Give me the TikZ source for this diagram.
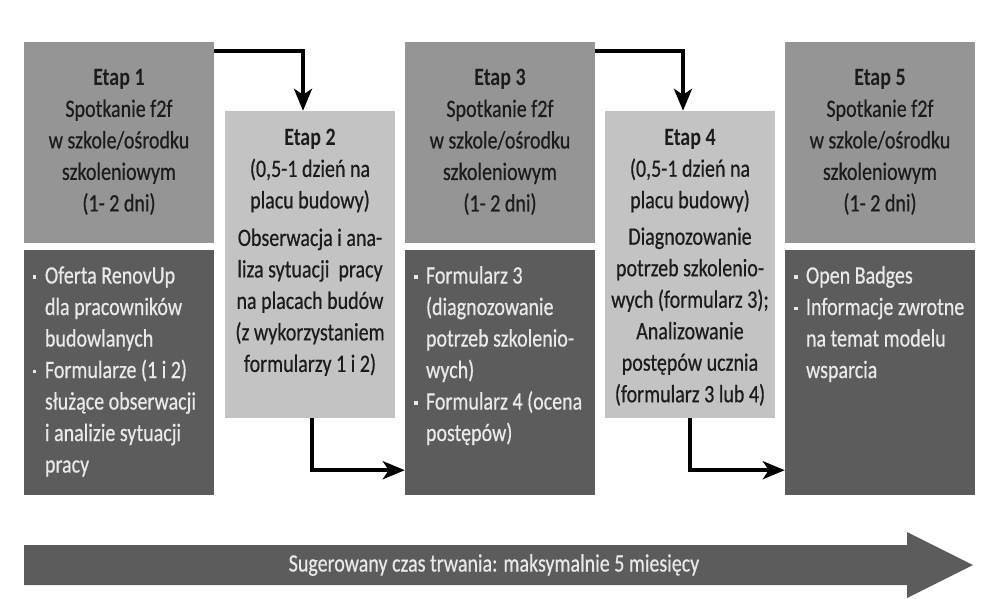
\documentclass[tikz,border=0pt]{standalone}
\usepackage{fontspec}
\setmainfont{Carlito}[FakeStretch=0.8, UprightFeatures={FakeBold=0.5}]
\usetikzlibrary{arrows.meta}
\definecolor{boxmid}{HTML}{959595}
\definecolor{boxdark}{HTML}{5C5C5C}
\definecolor{boxlight}{HTML}{C3C3C3}
\definecolor{ink}{HTML}{1C1C1C}
\definecolor{paper}{HTML}{E9E9E9}
\newcommand{\stagefont}{\fontsize{25}{31.5}\selectfont}
\newcommand{\itm}{\par\spaceskip=0pt\xspaceskip=0pt\hangindent=12pt\hangafter=1\noindent\makebox[12pt][l]{\rule[5pt]{3.5pt}{3.5pt}}}
\tikzset{
  stage/.style={fill=boxmid, minimum width=190pt, minimum height=201pt, inner sep=0pt, text=ink, align=center, font=\stagefont},
  notes/.style={fill=boxdark, minimum width=190pt, minimum height=245pt, inner sep=0pt},
  site/.style={fill=boxlight, minimum width=170pt, minimum height=307pt, inner sep=0pt},
  sitetext/.style={anchor=north, inner sep=0pt, text=ink, align=center, font=\stagefont},
  notetext/.style={anchor=north west, inner sep=0pt, text=paper, text width=178pt, align=left, font=\stagefont},
  flow/.style={draw=black, line width=4pt, -{Stealth[length=22pt,width=18pt,inset=6pt]}},
  bartext/.style={inner sep=0pt, text=paper, font=\stagefont}
}
\begin{document}
\begin{tikzpicture}[x=1pt,y=-1pt]
\useasboundingbox (0,0) rectangle (982,598);
\node[stage] (t1) at (119,142) {\textbf{Etap 1}\\Spotkanie f2f\\w szkole/ośrodku\\szkoleniowym\\(1- 2 dni)};
\node[stage] (t3) at (500,142) {\textbf{Etap 3}\\Spotkanie f2f\\w szkole/ośrodku\\szkoleniowym\\(1- 2 dni)};
\node[stage] (t5) at (880,142) {\textbf{Etap 5}\\Spotkanie f2f\\w szkole/ośrodku\\szkoleniowym\\(1- 2 dni)};
\node[notes] (d1) at (119,372.5) {};
\node[notes] (d3) at (500,372.5) {};
\node[notes] (d5) at (880,372.5) {};
\node[site] (s2) at (310,264.5) {};
\node[site] (s4) at (690,264.5) {};
\node[sitetext] (s2txt) at ([yshift=-18pt]s2.north) {\textbf{Etap 2}\\(0,5-1 dzień na\\placu budowy)\\[6pt]Obserwacja i ana-\\liza sytuacji\ \ pracy\\na placach budów\\(z wykorzystaniem\\formularzy 1 i 2)};
\node[sitetext] (s4txt) at ([yshift=-18pt]s4.north) {\textbf{Etap 4}\\(0,5-1 dzień na\\placu budowy)\\[5pt]Diagnozowanie\\potrzeb szkolenio-\\wych (formularz 3);\\Analizowanie\\postępów ucznia\\(formularz 3 lub 4)};
\node[notetext] (d1txt) at ([xshift=9pt,yshift=-2pt]d1.north west) {\itm Oferta RenovUp\newline dla pracowników\newline budowlanych\itm Formularze (1 i 2)\newline służące obserwacji\newline i analizie sytuacji\newline pracy\par};
\node[notetext] (d3txt) at ([xshift=9pt,yshift=-2pt]d3.north west) {\itm Formularz 3\newline (diagnozowanie\newline potrzeb szkolenio-\newline wych)\itm Formularz 4 (ocena\newline postępów)\par};
\node[notetext] (d5txt) at ([xshift=9pt,yshift=-2pt]d5.north west) {\itm Open Badges\itm Informacje zwrotne\newline na temat modelu\newline wsparcia\par};
\draw[flow] ([yshift=-10pt]t1.north east) -| ([xshift=-7pt]s2.north);
\draw[flow] ([yshift=-10pt]t3.north east) -| ([xshift=-7pt]s4.north);
\draw[flow] ([xshift=2pt]s2.south) |- ([yshift=25pt]d3.south west);
\draw[flow] (s4.south) |- ([yshift=25pt]d5.south west);
\fill[boxdark] (24,545) -- (907,545) -- (907,532) -- (973,565) -- (907,598) -- (907,585) -- (24,585) -- cycle;
\node[bartext] (dur) at (494,565) {Sugerowany czas trwania: maksymalnie 5 miesięcy};
\end{tikzpicture}
\end{document}
